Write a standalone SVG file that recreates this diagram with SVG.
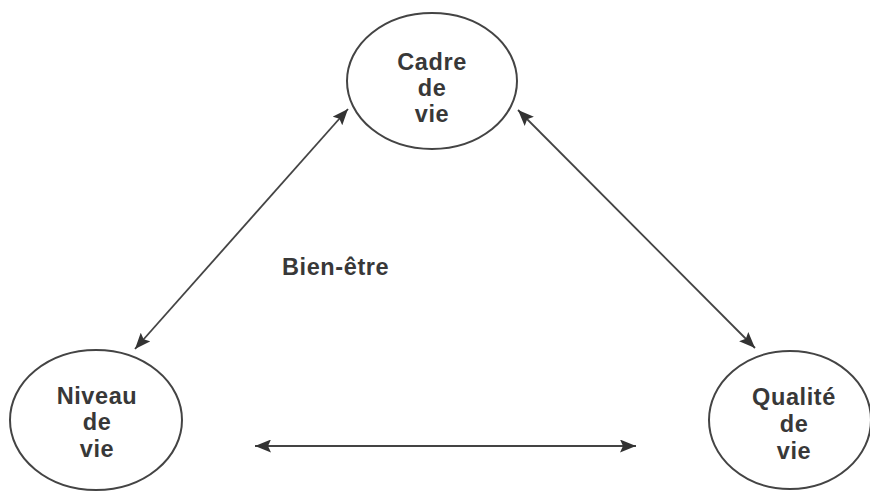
<svg xmlns="http://www.w3.org/2000/svg" width="870" height="491" viewBox="0 0 870 491">
<defs>
<style>
.node ellipse{fill:none;stroke:#444;stroke-width:2}
.node text,.lbl{font-family:"Liberation Sans",Arial,sans-serif;font-weight:bold;font-size:23.5px;letter-spacing:0.6px;fill:#383838;text-anchor:middle}
.lbl{text-anchor:start}
#connectors line{stroke:#444;stroke-width:1.8;marker-start:url(#ah);marker-end:url(#ah)}
</style>
<marker id="ah" markerUnits="userSpaceOnUse" markerWidth="17" markerHeight="13" refX="16" refY="6.5" orient="auto-start-reverse" viewBox="0 0 17 13">
<path d="M0,0 L16,6.5 L0,13 L3,6.5 Z" fill="#333"/>
</marker>
</defs>
<rect width="870" height="491" fill="#fff"/>
<g id="connectors">
<line x1="135" y1="349" x2="348" y2="109"/>
<line x1="518" y1="110" x2="755" y2="348"/>
<line x1="255" y1="446" x2="636" y2="446"/>
</g>
<g id="cadre" class="node">
<ellipse cx="432" cy="81" rx="85" ry="68"/>
<text x="432" y="70">Cadre</text>
<text x="432" y="96">de</text>
<text x="432" y="122">vie</text>
</g>
<g id="niveau" class="node">
<ellipse cx="96" cy="420" rx="86" ry="70"/>
<text x="97" y="404">Niveau</text>
<text x="97" y="430">de</text>
<text x="97" y="457">vie</text>
</g>
<g id="qualite" class="node">
<ellipse cx="790" cy="420" rx="81" ry="69"/>
<text x="794" y="405">Qualité</text>
<text x="794" y="432">de</text>
<text x="794" y="459">vie</text>
</g>
<g id="bienetre">
<text class="lbl" x="282" y="275">Bien-être</text>
</g>
</svg>
